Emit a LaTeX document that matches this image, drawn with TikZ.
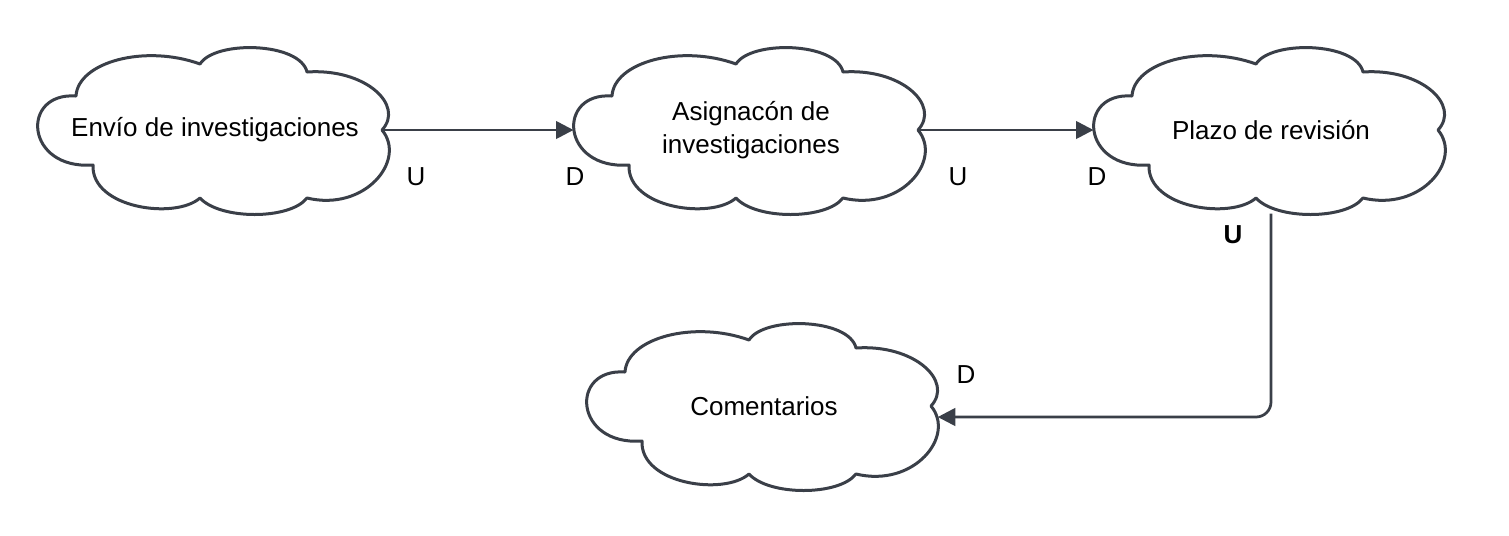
\documentclass[tikz,border=0pt]{standalone}
\usepackage{fontspec}
\setmainfont{Liberation Sans}
\usetikzlibrary{arrows.meta,positioning}
\definecolor{linegray}{HTML}{3A3F48}

\begin{document}
\begin{tikzpicture}[x=0.4pt,y=-0.4pt] % one unit = one pixel of the sketch, y grows downwards
\tikzset{stage/.style={rectangle, minimum width=141.6pt, minimum height=66.4pt,
  inner sep=0pt, align=center, font=\fontsize{10.4}{13}\selectfont}}
\tikzset{puff/.style={draw=linegray, line width=1.2pt, line join=round}}
\tikzset{link/.style={draw=linegray, line width=1.1pt, -{Triangle[length=7pt,width=7pt]}}}
\tikzset{tag/.style={font=\fontsize{10.4}{13}\selectfont, inner sep=0pt}}
\useasboundingbox (0,0) rectangle (1509,535);
% the four stages
\node[stage] (envio) at (215,130) {Envío de investigaciones};
\node[stage] (asigna) at (751,130) {Asignacón de\\investigaciones};
\node[stage] (plazo) at (1271,130) {Plazo de revisión};
\node[stage] (coment) at (764,406) {Comentarios};
% cloud outline round each stage
\foreach \n in {envio,asigna,plazo,coment}
  \draw[puff, shift={(\n.center)}] (-139,-34)
    .. controls (-137,-68) and (-70,-86) .. (-15,-66)
    .. controls (0,-90) and (85,-88) .. (92,-58)
    .. controls (150,-62) and (190,-25) .. (167,0)
    .. controls (192,30) and (150,82) .. (92,68)
    .. controls (75,90) and (5,90) .. (-15,68)
    .. controls (-40,90) and (-124,78) .. (-122,35)
    .. controls (-190,40) and (-195,-38) .. cycle;
% connectors
\draw[link] ([xshift=-4pt]envio.east) -- (asigna.west);
\draw[link] ([xshift=-4pt]asigna.east) -- (plazo.west);
\draw[link, rounded corners=6pt] (plazo.south) |- ([xshift=-1.5pt,yshift=-4.4pt]coment.east);
% end tags
\node[tag] (u1) at (416,177) {U};
\node[tag] (d1) at (575,177) {D};
\node[tag] (u2) at (958,177) {U};
\node[tag] (d2) at (1097,177) {D};
\node[tag, font=\fontsize{10.4}{13}\selectfont\bfseries] (u3) at (1233,235) {U};
\node[tag] (d3) at (966,375) {D};
\end{tikzpicture}
\end{document}
